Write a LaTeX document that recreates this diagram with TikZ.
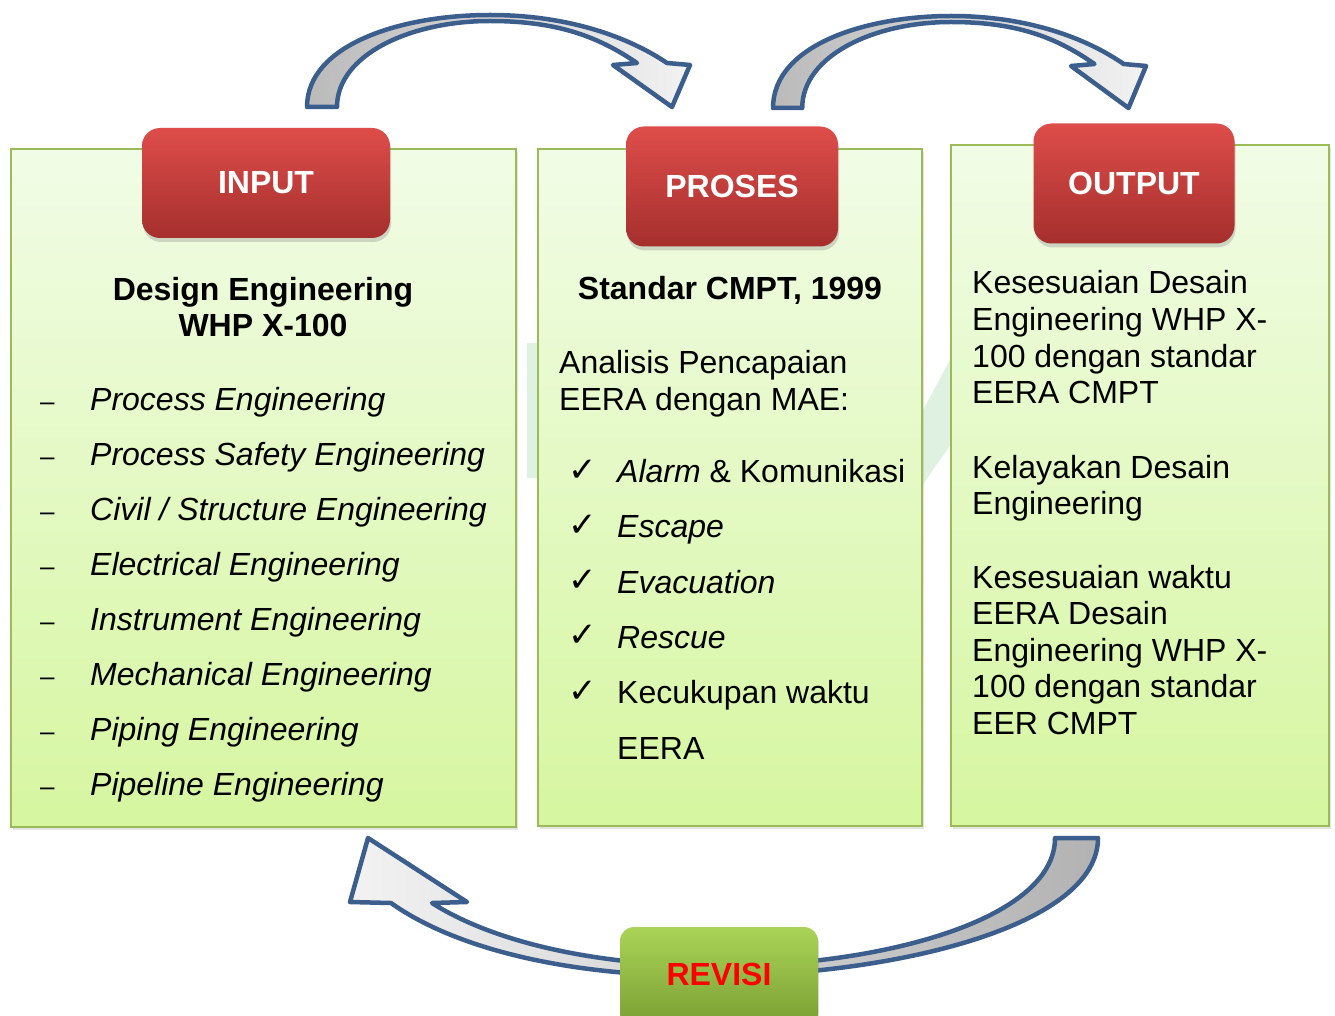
\documentclass[tikz,border=0pt]{standalone}
\usepackage{fontspec}
\setmainfont{Liberation Sans}
\newfontfamily\checkfont{DejaVu Sans}
\usetikzlibrary{shadows}

\definecolor{panelborder}{HTML}{9BBB59}
\definecolor{paneltop}{HTML}{F1FCE6}
\definecolor{panelbot}{HTML}{D6F6A0}
\definecolor{redtop}{HTML}{DE4D4A}
\definecolor{redbot}{HTML}{A52F2D}
\definecolor{greentop}{HTML}{A9D457}
\definecolor{greenbot}{HTML}{7A9E33}
\definecolor{arrowline}{HTML}{3B5E8C}
\definecolor{ghost}{HTML}{CBE8CC}

\tikzset{
  panel/.style={draw=panelborder, line width=2pt, top color=paneltop,
    bottom color=panelbot, inner sep=0pt,
    drop shadow={shadow xshift=2pt, shadow yshift=-3pt, opacity=0.22}},
  header/.style={rounded corners=18pt, top color=redtop, bottom color=redbot,
    text=white, inner sep=0pt, font=\bfseries\fontsize{32}{36}\selectfont,
    drop shadow={shadow xshift=1pt, shadow yshift=-4pt, opacity=0.3}},
  revbox/.style={rounded corners=14pt, top color=greentop, bottom color=greenbot,
    text=red, inner sep=0pt, font=\bfseries\fontsize{32}{36}\selectfont,
    drop shadow={shadow xshift=1pt, shadow yshift=-3pt, opacity=0.25}},
  body/.style={inner sep=0pt, anchor=base west, font=\fontsize{32}{37}\selectfont},
  bodyit/.style={body, font=\itshape\fontsize{32}{37}\selectfont},
  title/.style={inner sep=0pt, anchor=base, font=\bfseries\fontsize{32}{37}\selectfont},
  dashmark/.style={inner sep=0pt, anchor=base west, font=\fontsize{26}{30}\selectfont},
  tick/.style={inner sep=0pt, anchor=base west, font=\checkfont\fontsize{34}{40}\selectfont},
  blockarrow/.style={draw=arrowline, line width=4.5pt, line join=round},
  toparc/.pic={
    \path[blockarrow, left color=black!27, right color=black!5]
      (0,0) .. controls (0,-62) and (93,-92) .. (183,-92)
      .. controls (263,-92) and (323,-69) .. (360,-44)
      -- (383,-42) -- (365,0) -- (306,-42) -- (330,-44)
      .. controls (293,-69) and (253,-86) .. (183,-86)
      .. controls (103,-86) and (30,-52) .. (30,0) -- cycle;
  }
}

\begin{document}
\begin{tikzpicture}[x=1pt, y=-1pt]
\useasboundingbox (0,0) rectangle (1335,1016);
\fill[white] (0,0) rectangle (1335,1016);

% faint background arrow seen between the panels
\fill[ghost, opacity=0.6] (527,343) -- (915,343) -- (915,425) -- (952,356)
  -- (952,443) -- (923,484) -- (527,478) -- cycle;

% panels
\node[panel, minimum width=505pt, minimum height=678pt] (inpanel) at (263.5,488) {};
\node[panel, minimum width=384pt, minimum height=677pt] (propanel) at (730,487.5) {};
\node[panel, minimum width=378pt, minimum height=681pt] (outpanel) at (1140,485.5) {};

% headers
\node[header, minimum width=248pt, minimum height=110pt] (input) at (266,183) {INPUT};
\node[header, minimum width=212pt, minimum height=120pt] (proses) at (732,186.5) {PROSES};
\node[header, minimum width=201pt, minimum height=120pt] (output) at (1134,183.5) {OUTPUT};

% curved arrows between the stages
\pic at (307,107) {toparc};
\pic[xscale=0.974] at (773,108) {toparc};

\path[blockarrow, left color=black!5, right color=black!30]
  (1098,838) .. controls (1098,925) and (900,974) .. (720,976)
  .. controls (560,978) and (450,945) .. (391,903)
  -- (350,902) -- (368,838) -- (467,902) -- (432,903)
  .. controls (490,940) and (590,966) .. (720,966)
  .. controls (880,966) and (1055,920) .. (1055,838) -- cycle;

\node[revbox, minimum width=198pt, minimum height=100pt] (revisi) at (719,977) {};
\node[inner sep=0pt, text=red, font=\bfseries\fontsize{32}{36}\selectfont, anchor=base]
  (revlabel) at (719,985) {REVISI};

% input panel text
\node[title] (inT1) at (263,300) {Design Engineering};
\node[title] (inT2) at (263,336) {WHP X-100};
\foreach \t [count=\i from 0] in {Process Engineering, Process Safety Engineering,
    Civil / Structure Engineering, Electrical Engineering, Instrument Engineering,
    Mechanical Engineering, Piping Engineering, Pipeline Engineering} {
  \node[dashmark] (dash\i) at (40,{410+55*\i}) {\textendash};
  \node[bodyit] (item\i) at (90,{410+55*\i}) {\t};
}

% process panel text
\node[title] (prT) at (730,299) {Standar CMPT, 1999};
\node[body] (pr1) at (559,373) {Analisis Pencapaian};
\node[body] (pr2) at (559,410) {EERA dengan MAE:};
\foreach \j in {0,...,4} {
  \node[tick] (tick\j) at (568,{481+55.3*\j}) {✓};
}
\node[body] (ck0) at (617,482) {\textit{Alarm} \& Komunikasi};
\node[bodyit] (ck1) at (617,537) {Escape};
\node[bodyit] (ck2) at (617,593) {Evacuation};
\node[bodyit] (ck3) at (617,648) {Rescue};
\node[body] (ck4) at (617,703) {Kecukupan waktu};
\node[body] (ck5) at (617,759) {EERA};

% output panel text
\node[body] (o1) at (972,294) {Kesesuaian Desain};
\node[body] (o2) at (972,330.5) {Engineering WHP X-};
\node[body] (o3) at (972,367) {100 dengan standar};
\node[body] (o4) at (972,403.5) {EERA CMPT};
\node[body] (o5) at (972,478) {Kelayakan Desain};
\node[body] (o6) at (972,514.5) {Engineering};
\node[body] (o7) at (972,588) {Kesesuaian waktu};
\node[body] (o8) at (972,624.5) {EERA Desain};
\node[body] (o9) at (972,661) {Engineering WHP X-};
\node[body] (o10) at (972,697.5) {100 dengan standar};
\node[body] (o11) at (972,734) {EER CMPT};
\end{tikzpicture}
\end{document}
